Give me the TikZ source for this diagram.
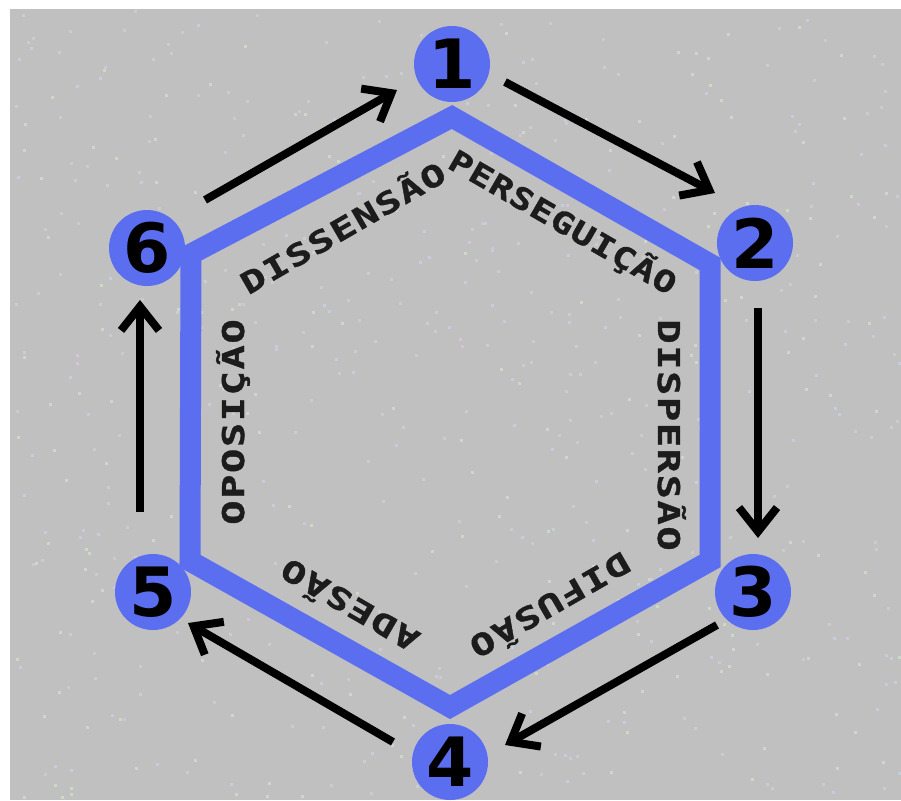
\documentclass[tikz,border=0pt]{standalone}
\usepackage{fontspec}
\usepackage{xcolor}
\usetikzlibrary{arrows.meta}

\newfontfamily\numfont{DejaVu Sans}
\newfontfamily\lblfont{DejaVu Sans Mono}[FakeStretch=1.35,LetterSpace=5,FakeBold=1.2]
\newfontfamily\lbltight{DejaVu Sans Mono}[FakeStretch=1.25,LetterSpace=3,FakeBold=1.2]

\definecolor{hexblue}{RGB}{92,110,240}
\definecolor{bggray}{RGB}{192,192,192}
\definecolor{ink}{RGB}{28,28,28}
\definecolor{speck0}{RGB}{206,216,198}
\definecolor{speck1}{RGB}{208,198,214}
\definecolor{speck2}{RGB}{198,206,222}

\tikzset{
  ring/.style={line width=21pt, hexblue, line join=miter},
  num/.style={circle, fill=hexblue, minimum size=76pt, inner sep=0pt,
    font=\numfont\bfseries\fontsize{68}{68}\selectfont, text=black},
  lbl/.style={font=\lblfont\bfseries\fontsize{30}{30}\selectfont, text=ink,
    inner sep=0pt, text height=22pt, text depth=0pt},
  lbl tight/.style={lbl, font=\lbltight\bfseries\fontsize{30}{30}\selectfont},
  flow/.style={line width=8pt, black, -{Straight Barb[length=24pt,width=38pt]}},
}

\begin{document}
\begin{tikzpicture}[x=1pt,y=-1pt]

    % Paper and frame
    \fill[white] (0,0) rectangle (901,800);
    \fill[bggray] (10,9) rectangle (901,800);
    \useasboundingbox (0,0) rectangle (901,800);

    % Seed for the speckles of the scan
    \pgfmathsetseed{42}
    \foreach \i in {1,...,600} {
        \pgfmathsetmacro{\x}{10+rnd*888}
        \pgfmathsetmacro{\y}{9+rnd*788}
        \pgfmathtruncatemacro{\c}{mod(\i,3)}
        \fill[speck\c] (\x,\y) rectangle ++(3,3);
    }

    % Corners of the hexagon
    \coordinate (v1) at (452,117);
    \coordinate (v2) at (710,264);
    \coordinate (v3) at (710,561);
    \coordinate (v4) at (450,707);
    \coordinate (v5) at (190,561);
    \coordinate (v6) at (191,254);

    \draw[ring] (v1) -- (v2) -- (v3) -- (v4) -- (v5) -- (v6) -- cycle;

    % Numbered stages
    \node[num] (n1) at (452,64) {1};
    \node[num] (n2) at (755,243) {2};
    \node[num] (n3) at (753,592) {3};
    \node[num] (n4) at (450,762) {4};
    \node[num] (n5) at (153,592) {5};
    \node[num] (n6) at (147,248) {6};

    % Names of the sides
    \node[lbl tight, rotate=-30] (perseg) at (563,222) {PERSEGUIÇÃO};
    \node[lbl, rotate=-90] (dispers) at (669,435) {DISPERSÃO};
    \node[lbl, rotate=210] (difus) at (550,605) {DIFUSÃO};
    \node[lbl, rotate=150] (ades) at (350,605) {ADESÃO};
    \node[lbl, rotate=90] (oposic) at (233,422) {OPOSIÇÃO};
    \node[lbl, rotate=30] (dissens) at (343,228) {DISSENSÃO};

    % Arrows round the cycle
    \coordinate (a1s) at (505,82);  \coordinate (a1e) at (715,193);
    \coordinate (a2s) at (758,308); \coordinate (a2e) at (758,538);
    \coordinate (a3s) at (717,625); \coordinate (a3e) at (505,745);
    \coordinate (a4s) at (393,742); \coordinate (a4e) at (188,623);
    \coordinate (a5s) at (140,512); \coordinate (a5e) at (140,300);
    \coordinate (a6s) at (205,200); \coordinate (a6e) at (397,90);

    \draw[flow] (a1s) -- (a1e);
    \draw[flow] (a2s) -- (a2e);
    \draw[flow] (a3s) -- (a3e);
    \draw[flow] (a4s) -- (a4e);
    \draw[flow] (a5s) -- (a5e);
    \draw[flow] (a6s) -- (a6e);

\end{tikzpicture}
\end{document}
